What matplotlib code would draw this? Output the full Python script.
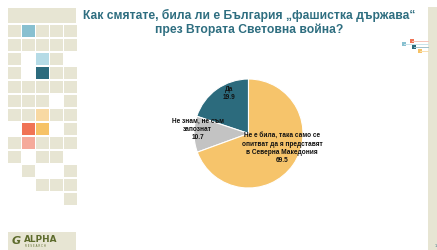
import matplotlib
matplotlib.use("Agg")
import matplotlib.pyplot as plt
from matplotlib.patches import Rectangle

# ---- data ----
categories = ["Да", "Не знам, не съм\nзапознат", "Не е била, така само се\nопитват да я представят\nв Северна Македония"]
values = [19.9, 10.7, 69.5]
colors = ["#2c6b7d", "#c3c3c3", "#f6c46b"]
title = "Как смятате, била ли е България „фашистка държава“\nпрез Втората Световна война?"

# layout (pie-radius units) for the slice labels
label_xy = [(-0.36, 0.74), (-0.93, 0.08), (0.62, -0.27)]

W, H = 437, 250
fig = plt.figure(figsize=(W / 100, H / 100), dpi=100)
fig.patch.set_facecolor("white")

# ---- background decoration ----
bg = fig.add_axes([0, 0, 1, 1])
bg.set_xlim(0, W)
bg.set_ylim(H, 0)
bg.axis("off")

beige = "#e7e5d3"
grid = [
    "bLbbb",
    "bbbbb",
    "b.pb.",
    "b.tbb",
    "bbbbb",
    "bbb.b",
    "bbobb",
    ".rO.b",
    "bkbbb",
    "b.bb.",
    ".b..b",
    "..bbb",
    "....b",
]
cmap = {"b": beige, "L": "#88c0d0", "p": "#b5dbe6", "t": "#2c6b7d",
        "o": "#f8d9a3", "r": "#f07355", "O": "#f6c266", "k": "#f5aa9b"}
bg.add_patch(Rectangle((8, 8), 68, 15, color=beige, lw=0))
for r, row in enumerate(grid):
    for c, ch in enumerate(row):
        if ch == ".":
            continue
        bg.add_patch(Rectangle((8 + 14 * c, 24.7 + 14 * r), 12.7, 12.7,
                               color=cmap[ch], lw=0))

# right stripe
bg.add_patch(Rectangle((428, 7), 9, 243, color=beige, lw=0))
bg.text(435.5, 246, "1", fontsize=2.5, color="#2c6b7d", ha="center", va="center")

# small connector decoration
for (x, y, col, lc) in [(411.5, 41, "#f07355", "#f6c4b8"),
                        (404, 44, "#88c0d0", "#c9e3ea"),
                        (414.3, 47.3, "#2c6b7d", "#9fc0c9"),
                        (420, 50.5, "#f6c266", "#f8dfae")]:
    bg.plot([x, 428], [y, y], color=lc, lw=0.7)
    bg.add_patch(Rectangle((x - 2, y - 2), 4, 4, color=col, lw=0))

# logo
bg.add_patch(Rectangle((8, 232), 68, 18, color=beige, lw=0))
bg.text(12, 241, "G", fontsize=8, fontweight="bold", color="#5d6b2c",
        ha="left", va="center", style="italic")
bg.text(24, 239.5, "ALPHA", fontsize=6.4, fontweight="bold", color="#5d6b2c",
        ha="left", va="center", family="DejaVu Sans")
bg.text(25, 246, "R E S E A R C H", fontsize=2, color="#5d6b2c",
        ha="left", va="center")

# title
bg.text(249, 22.5, title, fontsize=8.7, fontweight="bold", color="#2e6e80",
        ha="center", va="center", linespacing=1.2,
        family=["Liberation Sans Narrow", "Liberation Sans", "DejaVu Sans"])

# ---- pie ----
cx, cy, R = 248.5, 133.5, 54.5
ax = fig.add_axes([(cx - R) / W, (H - cy - R) / H, 2 * R / W, 2 * R / H])
wedges, _ = ax.pie(values, colors=colors, startangle=90, counterclock=True,
                   wedgeprops=dict(edgecolor="white", linewidth=0.8))
ax.set_xlim(-1, 1)
ax.set_ylim(-1, 1)
ax.set_aspect("auto")
ax.axis("off")

for cat, v, (x, y) in zip(categories, values, label_xy):
    ax.text(x, y, f"{cat}\n{v:.1f}", ha="center", va="center",
            fontsize=4.7, fontweight="bold", color="#111111", linespacing=1.25,
            family=["Liberation Sans Narrow", "Liberation Sans", "DejaVu Sans"],
            clip_on=False)

fig.savefig("out.png", dpi=100, facecolor="white")
